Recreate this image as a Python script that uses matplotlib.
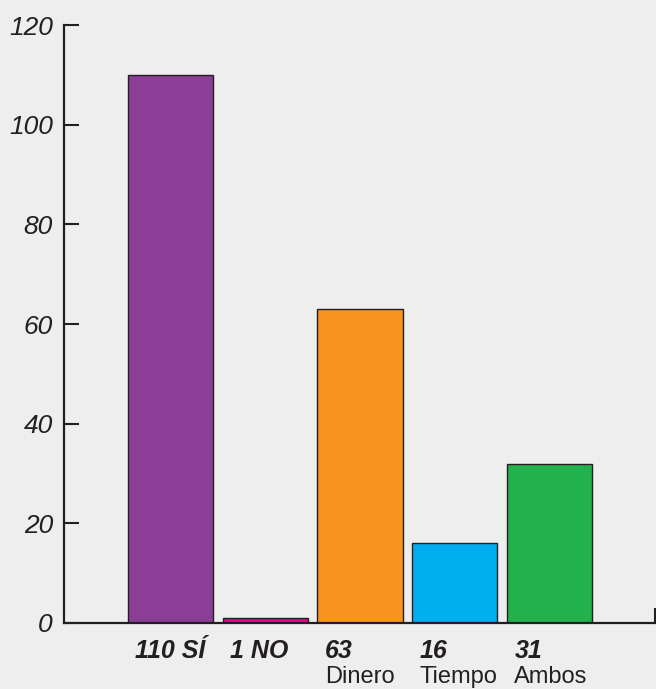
import numpy as np
import matplotlib.pyplot as plt
import matplotlib.transforms as mtransforms

plt.rcParams['font.family'] = ['Liberation Sans', 'DejaVu Sans']

# datos
alturas = [110, 1, 63, 16, 32]
etiquetas = ['110 SÍ', '1 NO', '63', '16', '31']
subetiquetas = ['', '', 'Dinero', 'Tiempo', 'Ambos']
colores = ['#8B3E96', '#EC008C', '#F7941D', '#00AEEF', '#22B14C']

fondo = '#EEEEEE'
fig = plt.figure(figsize=(6.56, 6.89), dpi=100, facecolor=fondo)
ax = fig.add_axes([0.0976, 0.0958, 0.9024, 0.8679], facecolor=fondo)

x = np.arange(len(alturas))
ax.bar(x, alturas, width=0.9, color=colores, edgecolor='#231F20', linewidth=1.0)

ax.set_ylim(0, 120)
ax.set_xlim(-1.124, 5.124)
ax.set_yticks(range(0, 121, 20))
ax.set_yticklabels([str(v) for v in range(0, 121, 20)], fontsize=19, style='italic',
                   color='#231F20')
ax.tick_params(axis='y', direction='in', length=11, width=1.5, color='#231F20', pad=8)
ax.set_xticks([5.115])
ax.set_xticklabels([''])
ax.tick_params(axis='x', direction='in', length=11, width=1.5, color='#231F20')

for s in ['top', 'right']:
    ax.spines[s].set_visible(False)
for s in ['left', 'bottom']:
    ax.spines[s].set_linewidth(1.6)
    ax.spines[s].set_color('#231F20')

trans = mtransforms.blended_transform_factory(ax.transData, ax.transAxes)
for i in range(len(alturas)):
    ax.text(i - 0.37, -0.0585, etiquetas[i], transform=trans, ha='left', va='baseline',
            fontsize=18, fontweight='bold', style='italic', color='#231F20')
    if subetiquetas[i]:
        ax.text(i - 0.37, -0.1, subetiquetas[i], transform=trans, ha='left',
                va='baseline', fontsize=17, color='#231F20')

fig.savefig('out.png', dpi=100, facecolor=fondo)
